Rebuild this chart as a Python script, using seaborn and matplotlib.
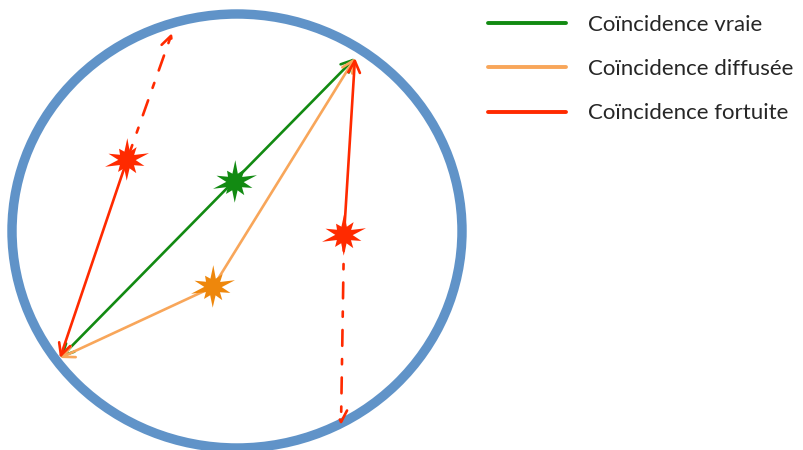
import numpy as np
import matplotlib
matplotlib.use("Agg")
import matplotlib.pyplot as plt
from matplotlib.patches import Ellipse
from matplotlib.path import Path
import seaborn as sns

# diagram coordinates (pixel space of the original figure, y pointing down)
detector_center = (237, 231)
detector_size = (450, 434)

point_a = (60, 358)     # lower-left detection point
point_b = (355, 58)     # upper-right detection point

labels = ["Coïncidence vraie", "Coïncidence diffusée", "Coïncidence fortuite"]
colors = ["#128a12", "#f8a65a", "#ff2a00"]

# annihilation / scatter points
star_x = [235, 213, 127, 344]
star_y = [182, 287, 160, 235]
star_colors = ["#128a12", "#ee870c", "#ff2a00", "#ff2a00"]

# ends of the lost photons (dash-dot)
lost_ends = [(172, 33), (341, 425)]


def spiky_star():
    outer = [1.0, 0.7, 0.95, 0.6, 0.85, 1.0, 0.65, 0.9, 0.7, 0.8]
    verts = []
    n = len(outer)
    for i, r in enumerate(outer):
        a = 2 * np.pi * i / n + 0.3
        verts.append((r * np.cos(a), r * np.sin(a)))
        a2 = a + np.pi / n
        verts.append((0.38 * np.cos(a2), 0.38 * np.sin(a2)))
    verts.append(verts[0])
    codes = [Path.MOVETO] + [Path.LINETO] * (len(verts) - 2) + [Path.CLOSEPOLY]
    return Path(verts, codes)


sns.set_theme(style="white")
plt.rcParams['font.family'] = ['Lato', 'DejaVu Sans']

fig = plt.figure(figsize=(8.04, 4.5), dpi=100)
ax = fig.add_axes([0, 0, 1, 1])
ax.set_xlim(0, 804)
ax.set_ylim(450, 0)
ax.axis("off")

ax.add_patch(Ellipse(detector_center, detector_size[0], detector_size[1],
                     fill=False, edgecolor="#6093c8", lw=6.8, zorder=1))

head = "->,head_length=0.7,head_width=0.35"
lw = 1.9


def arrow(start, end, color, style="solid", arrowstyle=head):
    ax.annotate("", xy=end, xytext=start,
                arrowprops=dict(arrowstyle=arrowstyle, color=color, lw=lw,
                                linestyle=style, shrinkA=0, shrinkB=0),
                zorder=3)


green, orange, red = colors
dashdot = (0, (6, 5, 2, 5))
# true coincidence
arrow(point_a, point_b, green, arrowstyle="<->,head_length=0.7,head_width=0.35")
# scattered coincidence
arrow((star_x[1], star_y[1]), point_a, orange)
arrow((star_x[1], star_y[1]), point_b, orange)
# random coincidences
arrow((star_x[2], star_y[2]), point_a, red)
arrow((star_x[2], star_y[2]), lost_ends[0], red, style=dashdot)
arrow((star_x[3], star_y[3]), point_b, red)
arrow((star_x[3], star_y[3]), lost_ends[1], red, style=dashdot)

sns.scatterplot(x=star_x, y=star_y, hue=list(range(len(star_x))),
                palette=star_colors, marker=spiky_star(), s=1000,
                linewidth=0, legend=False, ax=ax, zorder=5)

handles = [plt.Line2D([], [], color=c, lw=2.8) for c in colors]
ax.legend(handles, labels, loc="upper left", bbox_to_anchor=(0.582, 1.012),
          frameon=False, fontsize=16, handlelength=3.5, handletextpad=1.0,
          labelspacing=1.1)

fig.savefig("out.png", dpi=100)
